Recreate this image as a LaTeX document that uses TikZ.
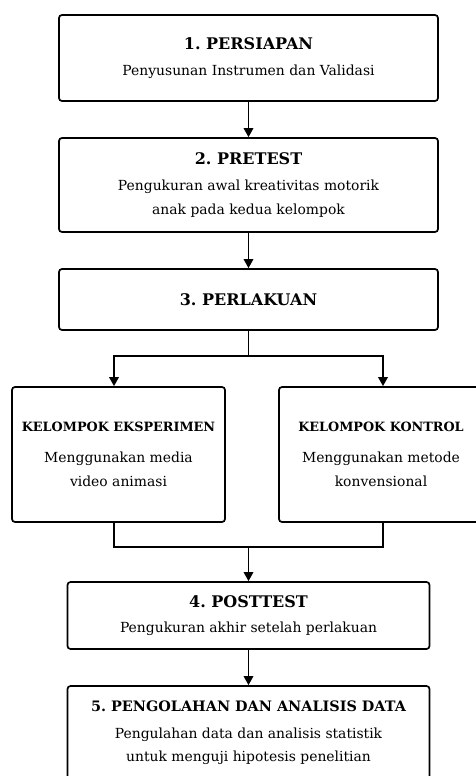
\documentclass[tikz,border=0pt]{standalone}
\usepackage{fontspec}
\setmainfont{DejaVu Serif}
\usetikzlibrary{arrows.meta}
\frenchspacing

\newcommand{\judul}[2][16]{{\fontsize{#1}{23.5}\selectfont\bfseries #2}}

\begin{document}
\begin{tikzpicture}[x=1pt, y=-1pt,
    box/.style={draw, line width=1.7pt, rounded corners=3pt, align=center,
      inner sep=0pt, font=\fontsize{13.9}{23.5}\selectfont},
    garis/.style={line width=1.7pt},
    arrow/.style={garis, -{Triangle[length=9pt, width=9.5pt]}}]
  \clip (0,0) rectangle (476,776);

  \node[box, minimum width=379pt, minimum height=86pt] (persiapan) at (248.5,58)
    {\judul{1. PERSIAPAN}\\[2.5pt] Penyusunan Instrumen dan Validasi};
  \node[box, minimum width=379pt, minimum height=94pt] (pretest) at (248.5,185)
    {\judul{2. PRETEST}\\[2.5pt] Pengukuran awal kreativitas motorik\\ anak pada kedua kelompok};
  \node[box, minimum width=379pt, minimum height=61pt] (perlakuan) at (248.5,299.5)
    {\judul{3. PERLAKUAN}};

  % kedua kelompok
  \node[box, minimum width=213pt, minimum height=135pt] (eksperimen) at (118.5,454.5)
    {\judul[12.8]{KELOMPOK EKSPERIMEN}\\[7.5pt] Menggunakan media\\ video animasi};
  \node[box, minimum width=204pt, minimum height=135pt] (kontrol) at (381,454.5)
    {\judul[12.8]{KELOMPOK KONTROL}\\[7.5pt] Menggunakan metode\\ konvensional};

  \node[box, minimum width=362pt, minimum height=67pt] (posttest) at (248.5,615.5)
    {\judul{4. POSTTEST}\\[1.5pt] Pengukuran akhir setelah perlakuan};
  \node[box, minimum width=362pt, minimum height=94pt] (analisis) at (248.5,733)
    {\judul[14.4]{5. PENGOLAHAN DAN ANALISIS DATA}\\[3pt] Pengulahan data dan analisis statistik\\ untuk menguji hipotesis penelitian};

  \coordinate (split) at (248.5,356);
  \coordinate (join) at (248.5,547);

  \draw[arrow] (persiapan.south) -- (pretest.north);
  \draw[arrow] (pretest.south) -- (perlakuan.north);
  \draw[garis] (perlakuan.south) -- (split);
  \draw[arrow] (split) -| ([xshift=-4.5pt]eksperimen.north);
  \draw[arrow] (split) -| ([xshift=2pt]kontrol.north);
  \draw[garis] ([xshift=-4.5pt]eksperimen.south) |- (join);
  \draw[garis] ([xshift=2pt]kontrol.south) |- (join);
  \draw[arrow] (join) -- (posttest.north);
  \draw[arrow] (posttest.south) -- (analisis.north);
\end{tikzpicture}
\end{document}
